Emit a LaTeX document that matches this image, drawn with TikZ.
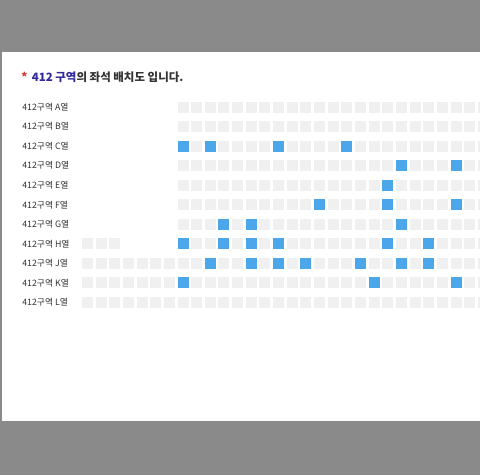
\documentclass[tikz,border=0pt]{standalone}
\usepackage{fontspec}
\setmainfont{Noto Sans CJK KR}
\usepackage{tikz}
\definecolor{pagegray}{HTML}{8A8A8A}
\definecolor{seatgray}{HTML}{F0F0F0}
\definecolor{seatblue}{HTML}{4BA6EA}
\definecolor{zonepurple}{HTML}{33299A}
\definecolor{startred}{HTML}{E0312B}
\definecolor{labelgray}{HTML}{333333}
\tikzset{
    seat/.style={rectangle, fill=seatgray, inner sep=0pt, minimum size=8.25pt},
    taken/.style={rectangle, fill=seatblue, inner sep=0pt, minimum size=8.25pt},
    rowlabel/.style={anchor=west, inner sep=0pt, text=labelgray, font=\fontsize{6.6pt}{7pt}\selectfont}
}

\begin{document}
\begin{tikzpicture}[x=0.75pt, y=-0.75pt]
    \useasboundingbox (0, 0) rectangle (480, 475);
    \fill[pagegray] (0, 0) rectangle (480, 475);
    \fill[white] (2, 52) rectangle (480, 421);
    \node[anchor=west, inner sep=0pt, font=\fontsize{8.6pt}{9pt}\selectfont\bfseries] (title) at (21, 77)
        {\textcolor{startred}{*}\, \textcolor{zonepurple}{412 구역}\textcolor{labelgray}{의 좌석 배치도 입니다.}};
    \foreach \row [count=\i from 0] in {A,B,C,D,E,F,G,H,J,K,L} {
        \node[rowlabel] (l-\row) at (22, 107+\i*19.55) {412구역 \row 열};
        \foreach \c in {0,...,29} {
            \pgfmathtruncatemacro{\skip}{(\i<7 && \c<7) || (\i==7 && \c>2 && \c<7) ? 1 : 0}
            \ifnum\skip=0
                \node[seat] (s-\row-\c) at (87.5+\c*13.65, 107+\i*19.55) {};
            \fi
        }
    }
    \foreach \row/\c in {C/7, C/9, C/14, C/19, D/23, D/27, E/22, F/17, F/22, F/27,
        G/10, G/12, G/23, H/7, H/10, H/12, H/14, H/22, H/25,
        J/9, J/12, J/14, J/16, J/20, J/23, J/25, K/7, K/21, K/27} {
        \node[taken] at (s-\row-\c) {};
    }
\end{tikzpicture}
\end{document}
